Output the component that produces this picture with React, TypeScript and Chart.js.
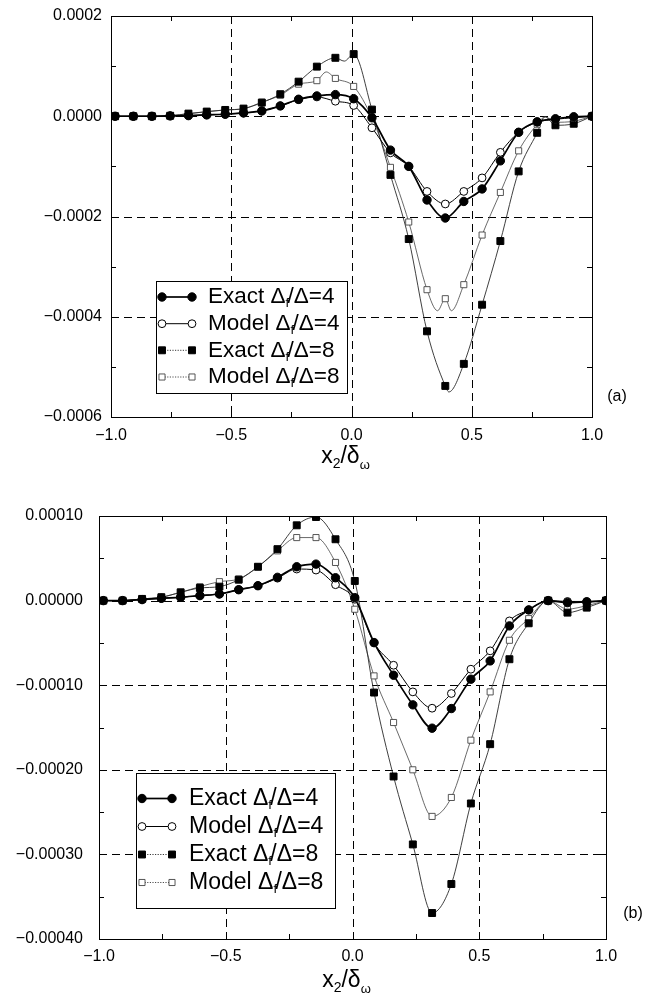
import { useEffect, useRef } from "react";
import { Chart, registerables } from "chart.js";

Chart.register(...registerables);

const FONT = "'Liberation Sans', Arial, Helvetica, sans-serif";

// x2/delta_omega stations shared by every profile
const gridX = [
  -0.983, -0.907, -0.83, -0.754, -0.678, -0.602, -0.525, -0.449, -0.373,
  -0.296, -0.22, -0.144, -0.067, 0.009, 0.085, 0.162, 0.238, 0.314, 0.39,
  0.467, 0.543, 0.619, 0.695, 0.772, 0.848, 0.924, 1.0,
];

// panel (a)
const exactA4 = [
  0, 0, 0, 0.0000007, 0.0000013, 0.0000027, 0.000004, 0.0000066, 0.0000106,
  0.0000206, 0.0000339, 0.0000405, 0.0000432, 0.000035, -0.000003, -0.0000675,
  -0.0001, -0.000167, -0.000203, -0.00017, -0.000145, -0.000089, -0.000032,
  -0.000011, -0.000005, -0.000001, 0,
];
const modelA4 = [
  0, 0, 0, 0.0000007, 0.0000013, 0.0000027, 0.000004, 0.0000066, 0.0000106,
  0.0000206, 0.000033, 0.0000385, 0.00003, 0.0000215, -0.000023, -0.000073,
  -0.0001, -0.00015, -0.000175, -0.00015, -0.000123, -0.000072, -0.000032,
  -0.000012, -0.000006, -0.000003, 0,
];
const exactA8 = [
  0, 0, 0, 0.000001, 0.0000053, 0.0000093, 0.0000126, 0.0000153, 0.0000272,
  0.000044, 0.000069, 0.000099, 0.0001166, 0.000124, 0.0000133, -0.000117,
  -0.000245, -0.000429, -0.000538, -0.000494, -0.000376, -0.000249, -0.00011,
  -0.000033, -0.000018, -0.000015, 0,
];
const modelA8 = [
  0, 0, 0, 0.000001, 0.000005, 0.000009, 0.0000125, 0.000015, 0.000028,
  0.000042, 0.000064, 0.000071, 0.0000755, 0.0000595, -0.000003, -0.000102,
  -0.000211, -0.000346, -0.000364, -0.000336, -0.000237, -0.000152, -0.000069,
  -0.000016, -0.000012, -0.00001, 0,
];
// where the curve bends between marked stations
const exactA8Bends = [[-0.03, 0.00011], [0.405, -0.00055], [0.805, -0.000001]];
const modelA8Bends = [[-0.105, 0.0000884], [0.358, -0.000388], [0.415, -0.000388], [0.805, -0.000001]];

// panel (b)
const exactB4 = [
  0, 0, 0.0000012, 0.0000027, 0.0000039, 0.0000059, 0.0000078, 0.0000129,
  0.0000176, 0.0000275, 0.00004, 0.0000431, 0.000027, 0.0000035, -0.0000496,
  -0.0000882, -0.0001232, -0.0001508, -0.0001276, -0.0000929, -0.0000713,
  -0.0000299, -0.000011, 0, -0.0000024, -0.0000016, 0,
];
const modelB4 = [
  0, 0, 0.0000012, 0.0000027, 0.0000039, 0.0000059, 0.0000078, 0.0000129,
  0.0000176, 0.0000265, 0.0000373, 0.0000361, 0.0000188, 0.0000016, -0.00005,
  -0.0000764, -0.0001079, -0.0001272, -0.0001098, -0.0000811, -0.0000594,
  -0.000024, -0.000011, 0, -0.000001, -0.000001, 0,
];
const exactB8 = [
  0, 0, 0.000002, 0.000004, 0.0000098, 0.0000149, 0.0000165, 0.0000247, 0.00004,
  0.0000608, 0.000089, 0.0000988, 0.0000725, 0.0000232, -0.0001087, -0.0002079,
  -0.0002882, -0.0003693, -0.000335, -0.0002398, -0.0001697, -0.0000693,
  -0.0000268, 0, -0.0000142, -0.0000083, 0,
];
const modelB8 = [
  0, 0, 0.000002, 0.000004, 0.0000098, 0.0000165, 0.0000224, 0.0000255, 0.00004,
  0.0000588, 0.0000745, 0.0000745, 0.0000451, -0.0000102, -0.000089, -0.0001441,
  -0.0002, -0.0002551, -0.0002327, -0.000165, -0.0001079, -0.0000469,
  -0.0000213, 0, -0.00001, -0.000006, 0,
];

// axes
const xTicks = [-1, -0.5, 0, 0.5, 1];
const xMinor = [-0.75, -0.5, -0.25, 0, 0.25, 0.5, 0.75];
const xGrid = [-0.5, 0, 0.5];
const yTicksA = [0.0002, 0, -0.0002, -0.0004, -0.0006];
const yMinorA = [0.0001, 0, -0.0001, -0.0002, -0.0003, -0.0004, -0.0005];
const yGridA = [0, -0.0002, -0.0004];
const yTicksB = [0.0001, 0, -0.0001, -0.0002, -0.0003, -0.0004];
const yMinorB = [0.00005, 0, -0.00005, -0.0001, -0.00015, -0.0002, -0.00025, -0.0003, -0.00035];
const yGridB = [0, -0.0001, -0.0002, -0.0003];

// legend entries
const legendNames = ["Exact", "Model", "Exact", "Model"];
const legendRatios = ["4", "4", "8", "8"];

type Style = {
  lineWidth: number;
  lineColor: string;
  dash: number[];
  point: "circle" | "rect";
  radius: number;
  fill: string;
  stroke: string;
  strokeWidth: number;
};

const styles: Style[] = [
  { lineWidth: 1.7, lineColor: "#000", dash: [], point: "circle", radius: 4.2, fill: "#000", stroke: "#000", strokeWidth: 1 },
  { lineWidth: 1, lineColor: "#000", dash: [], point: "circle", radius: 3.9, fill: "#fff", stroke: "#000", strokeWidth: 1 },
  { lineWidth: 0.9, lineColor: "#2a2a2a", dash: [1.2, 1.4], point: "rect", radius: 4.9, fill: "#000", stroke: "#000", strokeWidth: 1 },
  { lineWidth: 0.8, lineColor: "#444", dash: [1.2, 1.4], point: "rect", radius: 4.3, fill: "#fff", stroke: "#444", strokeWidth: 0.9 },
];

type Panel = {
  marks: number[][];
  bends: number[][][];
  yMin: number;
  yMax: number;
  yTicks: number[];
  yMinor: number[];
  yGrid: number[];
  decimals: number;
  width: number;
  height: number;
  area: { left: number; right: number; top: number; bottom: number };
  yPad: number;
  xPad: number;
  titleBase: number;
  letter: string;
  letterX: number;
  letterY: number;
  legend: { left: number; right: number; top: number; bottom: number; rows: number[]; font: number; sample0: number; sample1: number; textX: number };
};

const panelA: Panel = {
  marks: [exactA4, modelA4, exactA8, modelA8],
  bends: [[], [], exactA8Bends, modelA8Bends],
  yMin: -0.0006,
  yMax: 0.0002,
  yTicks: yTicksA,
  yMinor: yMinorA,
  yGrid: yGridA,
  decimals: 4,
  width: 652,
  height: 500,
  area: { left: 111, right: 592, top: 16, bottom: 417 },
  yPad: 9,
  xPad: 9,
  titleBase: 463,
  letter: "(a)",
  letterX: 617,
  letterY: 397,
  legend: { left: 156, right: 347, top: 281, bottom: 393, rows: [297, 323.7, 350.3, 377], font: 22.5, sample0: 162, sample1: 192, textX: 208 },
};

const panelB: Panel = {
  marks: [exactB4, modelB4, exactB8, modelB8],
  bends: [[], [], [], []],
  yMin: -0.0004,
  yMax: 0.0001,
  yTicks: yTicksB,
  yMinor: yMinorB,
  yGrid: yGridB,
  decimals: 5,
  width: 652,
  height: 496,
  area: { left: 99, right: 606, top: 16, bottom: 439 },
  yPad: 16,
  xPad: 8,
  titleBase: 487,
  letter: "(b)",
  letterX: 633,
  letterY: 414,
  legend: { left: 136, right: 335, top: 273, bottom: 408, rows: [298.5, 326.5, 354.5, 382.5], font: 23, sample0: 142, sample1: 172, textX: 189 },
};

const fmt = (v: number, d: number) => (v < -1e-12 ? "\u2212" : "") + Math.abs(v).toFixed(d);

const font = (size: number) => `${size}px ${FONT}`;

function drawMarker(ctx: CanvasRenderingContext2D, s: Style, x: number, y: number) {
  ctx.save();
  ctx.setLineDash([]);
  ctx.fillStyle = s.fill;
  ctx.strokeStyle = s.stroke;
  ctx.lineWidth = s.strokeWidth;
  ctx.beginPath();
  if (s.point === "circle") {
    ctx.arc(x, y, s.radius, 0, Math.PI * 2);
  } else {
    const h = s.radius * Math.SQRT1_2;
    ctx.rect(x - h, y - h, 2 * h, 2 * h);
  }
  ctx.fill();
  ctx.stroke();
  ctx.restore();
}

type Part = { t: string; size: number; dy?: number; adv?: number };

function partsWidth(ctx: CanvasRenderingContext2D, parts: Part[]) {
  let w = 0;
  for (const p of parts) {
    ctx.font = font(p.size);
    w += ctx.measureText(p.t).width * (p.adv ?? 1);
  }
  return w;
}

function drawParts(ctx: CanvasRenderingContext2D, parts: Part[], x: number, y: number) {
  let cx = x;
  for (const p of parts) {
    ctx.font = font(p.size);
    ctx.fillText(p.t, cx, y + (p.dy ?? 0));
    cx += ctx.measureText(p.t).width * (p.adv ?? 1);
  }
}

const decorPlugin = {
  id: "panelDecor",
  beforeDatasetsDraw(chart: any) {
    const p: Panel = chart.options.plugins.panelDecor.panel;
    const { ctx, chartArea } = chart;
    const { left, right, top, bottom } = chartArea;
    const xs = chart.scales.x;
    const ys = chart.scales.y;
    ctx.save();
    ctx.strokeStyle = "#000";
    ctx.lineWidth = 1;
    ctx.setLineDash([8, 5]);
    for (const v of xGrid) {
      const px = Math.round(xs.getPixelForValue(v)) + 0.5;
      ctx.beginPath();
      ctx.moveTo(px, top);
      ctx.lineTo(px, bottom);
      ctx.stroke();
    }
    for (const v of p.yGrid) {
      const py = Math.round(ys.getPixelForValue(v)) + 0.5;
      ctx.beginPath();
      ctx.moveTo(left, py);
      ctx.lineTo(right, py);
      ctx.stroke();
    }
    ctx.setLineDash([]);
    const tl = 5;
    for (const v of xMinor) {
      const px = Math.round(xs.getPixelForValue(v)) + 0.5;
      ctx.beginPath();
      ctx.moveTo(px, bottom);
      ctx.lineTo(px, bottom - tl);
      ctx.moveTo(px, top);
      ctx.lineTo(px, top + tl);
      ctx.stroke();
    }
    for (const v of p.yMinor) {
      const py = Math.round(ys.getPixelForValue(v)) + 0.5;
      ctx.beginPath();
      ctx.moveTo(left, py);
      ctx.lineTo(left + tl, py);
      ctx.moveTo(right, py);
      ctx.lineTo(right - tl, py);
      ctx.stroke();
    }
    ctx.strokeRect(left + 0.5, top + 0.5, right - left, bottom - top);
    ctx.restore();
  },
  afterDatasetsDraw(chart: any) {
    const p: Panel = chart.options.plugins.panelDecor.panel;
    const { ctx, chartArea } = chart;
    const lg = p.legend;
    ctx.save();
    // legend box
    ctx.fillStyle = "#fff";
    ctx.fillRect(lg.left, lg.top, lg.right - lg.left, lg.bottom - lg.top);
    ctx.strokeStyle = "#000";
    ctx.lineWidth = 1;
    ctx.strokeRect(lg.left + 0.5, lg.top + 0.5, lg.right - lg.left, lg.bottom - lg.top);
    ctx.fillStyle = "#000";
    ctx.textBaseline = "middle";
    ctx.textAlign = "left";
    lg.rows.forEach((ry, i) => {
      const s = styles[i];
      ctx.save();
      ctx.strokeStyle = s.lineColor === "#000" ? "#000" : "#222";
      ctx.lineWidth = s.lineWidth;
      ctx.setLineDash(s.dash);
      ctx.beginPath();
      ctx.moveTo(lg.sample0, ry);
      ctx.lineTo(lg.sample1, ry);
      ctx.stroke();
      ctx.restore();
      drawMarker(ctx, s, lg.sample0, ry);
      drawMarker(ctx, s, lg.sample1, ry);
      ctx.fillStyle = "#000";
      drawParts(
        ctx,
        [
          { t: `${legendNames[i]} \u0394`, size: lg.font },
          { t: "f", size: Math.round(lg.font * 0.58), dy: lg.font * 0.3, adv: 0.55 },
          { t: `/\u0394=${legendRatios[i]}`, size: lg.font },
        ],
        lg.textX,
        ry
      );
    });
    // axis title x2/delta_omega
    ctx.textBaseline = "alphabetic";
    const title: Part[] = [
      { t: "x", size: 23 },
      { t: "2", size: 14, dy: 5 },
      { t: "/", size: 23 },
      { t: "\u03b4", size: 23 },
      { t: "\u03c9", size: 13, dy: 6 },
    ];
    const cx = (chartArea.left + chartArea.right) / 2 - 6;
    drawParts(ctx, title, cx - partsWidth(ctx, title) / 2, p.titleBase);
    // panel letter
    ctx.font = font(16);
    ctx.textAlign = "center";
    ctx.textBaseline = "middle";
    ctx.fillText(p.letter, p.letterX, p.letterY);
    ctx.restore();
  },
};

function makeConfig(p: Panel): any {
  const datasets: any[] = [];
  // markers first so they sit above the curves
  p.marks.forEach((ys, i) => {
    const s = styles[i];
    datasets.push({
      data: gridX.map((x, k) => ({ x, y: ys[k] })),
      showLine: false,
      pointStyle: s.point,
      pointRadius: s.radius,
      pointHoverRadius: s.radius,
      pointBackgroundColor: s.fill,
      pointBorderColor: s.stroke,
      pointBorderWidth: s.strokeWidth,
    });
  });
  p.marks.forEach((ys, i) => {
    const s = styles[i];
    const pts = gridX
      .map((x, k) => ({ x, y: ys[k] }))
      .concat(p.bends[i].map(([x, y]) => ({ x, y })))
      .sort((a, b) => a.x - b.x);
    datasets.push({
      data: pts,
      showLine: true,
      borderColor: s.lineColor,
      borderWidth: s.lineWidth,
      pointRadius: 0,
      pointHoverRadius: 0,
      cubicInterpolationMode: "monotone",
      fill: false,
    });
  });

  return {
    type: "scatter",
    data: { datasets },
    plugins: [decorPlugin],
    options: {
      responsive: false,
      animation: false,
      devicePixelRatio: 1,
      events: [],
      layout: { padding: { left: 0, top: p.area.top, right: p.width - p.area.right, bottom: 0 } },
      plugins: {
        legend: { display: false },
        tooltip: { enabled: false },
        panelDecor: { panel: p },
      },
      scales: {
        x: {
          type: "linear",
          min: -1,
          max: 1,
          grid: { display: false, drawTicks: false },
          border: { display: false },
          afterBuildTicks: (s: any) => {
            s.ticks = xTicks.map((value) => ({ value }));
          },
          afterFit: (s: any) => {
            s.height = p.height - p.area.bottom;
            s.paddingLeft = 0;
            s.paddingRight = 0;
          },
          ticks: {
            padding: p.xPad,
            color: "#000",
            font: { family: FONT, size: 16 },
            maxRotation: 0,
            autoSkip: false,
            callback: (v: number) => fmt(v, 1),
          },
        },
        y: {
          type: "linear",
          min: p.yMin,
          max: p.yMax,
          grid: { display: false, drawTicks: false },
          border: { display: false },
          afterBuildTicks: (s: any) => {
            s.ticks = p.yTicks.map((value) => ({ value }));
          },
          afterFit: (s: any) => {
            s.width = p.area.left;
            s.paddingTop = 0;
            s.paddingBottom = 0;
          },
          ticks: {
            padding: p.yPad,
            color: "#000",
            font: { family: FONT, size: 16 },
            autoSkip: false,
            callback: (v: number) => fmt(v, p.decimals),
          },
        },
      },
    },
  };
}

export default function App() {
  const refA = useRef<HTMLCanvasElement>(null);
  const refB = useRef<HTMLCanvasElement>(null);

  useEffect(() => {
    const a = new Chart(refA.current as HTMLCanvasElement, makeConfig(panelA));
    const b = new Chart(refB.current as HTMLCanvasElement, makeConfig(panelB));
    return () => {
      a.destroy();
      b.destroy();
    };
  }, []);

  return (
    <div style={{ position: "absolute", left: 0, top: 0, width: 652, height: 996, background: "#fff" }}>
      <canvas
        ref={refA}
        width={panelA.width}
        height={panelA.height}
        style={{ position: "absolute", left: 0, top: 0, width: panelA.width, height: panelA.height }}
      />
      <canvas
        ref={refB}
        width={panelB.width}
        height={panelB.height}
        style={{ position: "absolute", left: 0, top: panelA.height, width: panelB.width, height: panelB.height }}
      />
    </div>
  );
}
